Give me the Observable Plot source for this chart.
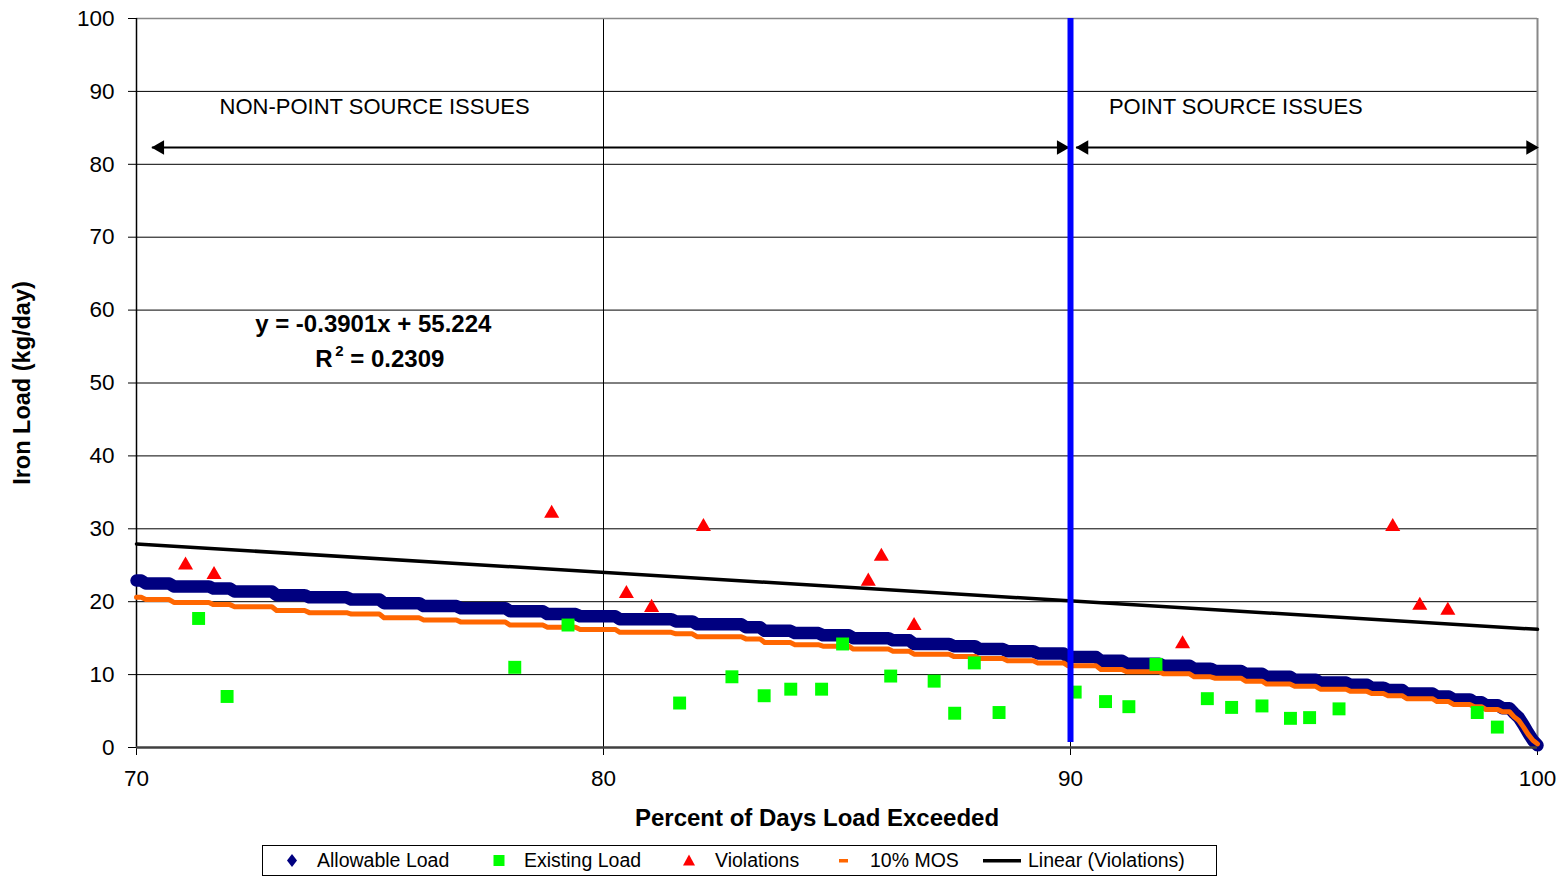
<!DOCTYPE html>
<html><head><meta charset="utf-8">
<script src="https://cdn.jsdelivr.net/npm/d3@7"></script>
<script src="https://cdn.jsdelivr.net/npm/@observablehq/plot@0.6"></script>
<style>
body{margin:0;background:#fff;font-family:"Liberation Sans",Arial,sans-serif;}
#wrap{position:relative;width:1564px;height:876px;overflow:hidden;}
#chart{position:absolute;left:0;top:0;}
#legend{position:absolute;left:262px;top:845px;width:955px;height:31px;border:1px solid #000;box-sizing:border-box;font-size:19.5px;color:#000;}
.item{position:absolute;top:0;height:29px;line-height:29px;white-space:nowrap;}
.sym{position:absolute;top:0;}
</style></head><body><div id="wrap"><div id="chart"></div><div id="legend"></div></div>
<script>
// ---- data ----
const xTicks = [70, 80, 90, 100];
const yTicks = [0, 10, 20, 30, 40, 50, 60, 70, 80, 90, 100];
const gridX = [80, 90];
const gridY = [10, 20, 30, 40, 50, 60, 70, 80, 90];

// Allowable load / 10% MOS: stepped levels (start %, end %, value)
const stepStart = [70.00,70.20,70.80,71.65,72.10,73.00,73.70,74.60,75.30,76.15,76.95,78.00,78.80,79.50,80.35,81.55,82.00,83.05,83.45,84.10,84.70,85.35,86.20,86.65,87.50,88.05,88.65,89.30,89.95,90.65,91.20,92.00,92.65,93.10,93.75,94.20,94.80,95.35,96.00,96.45,96.80,97.20,97.85,98.20,98.65,98.90,99.25];
const stepEnd   = [70.10,70.70,71.55,72.00,72.90,73.60,74.50,75.20,76.05,76.85,77.90,78.70,79.40,80.25,81.45,81.90,82.95,83.35,84.00,84.60,85.25,86.10,86.55,87.40,87.95,88.55,89.20,89.85,90.55,91.10,91.90,92.55,93.00,93.65,94.10,94.70,95.25,95.90,96.35,96.70,97.10,97.75,98.10,98.55,98.80,99.15,99.40];
const allowableLevel = [22.9,22.5,22.1,21.8,21.4,20.9,20.6,20.3,19.8,19.4,19.1,18.7,18.3,18.0,17.6,17.3,16.9,16.5,16.0,15.7,15.4,15.0,14.7,14.2,13.9,13.5,13.2,12.9,12.4,11.9,11.5,11.2,10.8,10.5,10.1,9.7,9.3,8.9,8.6,8.2,7.9,7.4,7.0,6.6,6.2,5.8,5.4];
const mosLevel       = [20.6,20.3,19.9,19.6,19.3,18.8,18.5,18.3,17.8,17.5,17.2,16.8,16.5,16.2,15.8,15.6,15.2,14.9,14.4,14.1,13.9,13.5,13.2,12.8,12.5,12.2,11.9,11.6,11.2,10.7,10.4,10.1,9.7,9.5,9.1,8.7,8.4,8.0,7.7,7.4,7.1,6.7,6.3,5.9,5.6,5.2,4.9];
const tailX = [99.50, 99.60, 99.70, 99.80, 99.90, 100.00];
const tailAllowable = [4.7, 4.1, 3.1, 2.0, 1.0, 0.3];
const tailMos = [4.2, 3.7, 2.8, 1.8, 1.0, 0.5];

const existingX = [71.33,71.94,78.10,79.24,81.63,82.75,83.44,84.01,84.67,85.12,86.15,87.08,87.52,87.94,88.47,90.10,90.75,91.25,91.83,92.93,93.45,94.10,94.71,95.12,95.75,98.71,99.14];
const existingY = [17.7,7.0,11.0,16.8,6.1,9.7,7.1,8.0,8.0,14.2,9.8,9.1,4.7,11.6,4.8,7.6,6.3,5.6,11.4,6.7,5.5,5.7,4.0,4.1,5.3,4.8,2.8];

const violationX = [71.05,71.66,78.89,80.49,81.03,82.14,85.67,85.95,86.65,92.40,96.90,97.48,98.08];
const violationY = [25.0,23.7,32.1,21.1,19.2,30.3,22.8,26.2,16.7,14.2,30.3,19.5,18.8];

const trendX = [70, 100];
const trendY = [27.92, 16.21];

const boundaryX = [90];
const arrowFrom = [70.34, 90.13];
const arrowTo = [89.96, 100.0];
const arrowY = 82.3;
const headX = [70.50, 89.80, 90.29, 99.85];
const headRotate = [-90, 90, -90, 90];
const regionLabels = ["NON-POINT SOURCE ISSUES", "POINT SOURCE ISSUES"];
const regionLabelX = [75.10, 93.54];
const regionLabelY = 87.8;
const eqLine = "y = -0.3901x + 55.224";
const eqX = 75.07, eqY = 58.0;
const r2Base = "R", r2Sup = "2", r2Rest = "= 0.2309";
const r2X = 75.22, r2Y = 53.2;

// ---- tables built from the arrays ----
const allowTable = stepStart.flatMap((s, i) => [{x: s, y: allowableLevel[i]}, {x: stepEnd[i], y: allowableLevel[i]}])
  .concat(tailX.map((x, i) => ({x, y: tailAllowable[i]})));
const mosTable = stepStart.flatMap((s, i) => [{x: s, y: mosLevel[i]}, {x: stepEnd[i], y: mosLevel[i]}])
  .concat(tailX.map((x, i) => ({x, y: tailMos[i]})));
const existing = existingX.map((x, i) => ({x, y: existingY[i]}));
const violations = violationX.map((x, i) => ({x, y: violationY[i]}));
const trend = trendX.map((x, i) => ({x, y: trendY[i]}));
const arrows = arrowFrom.map((a, i) => ({x1: a, x2: arrowTo[i], y: arrowY}));
const heads = headX.map((x, i) => ({x, y: arrowY, r: headRotate[i]}));
const regions = regionLabels.map((t, i) => ({t, x: regionLabelX[i], y: regionLabelY}));

const font = '"Liberation Sans", Arial, sans-serif';
const chart = Plot.plot({
  width: 1564,
  height: 840,
  marginLeft: 136,
  marginRight: 27,
  marginTop: 18,
  marginBottom: 93,
  style: {fontFamily: font, fontSize: "22.5px", color: "#000", background: "#fff"},
  x: {domain: [70, 100]},
  y: {domain: [0, 100]},
  marks: [
    Plot.ruleY(gridY, {stroke: "#000", strokeWidth: 1}),
    Plot.ruleX(gridX, {stroke: "#000", strokeWidth: 1}),
    Plot.ruleY([100], {stroke: "#888", strokeWidth: 1.5}),
    Plot.ruleX([100], {stroke: "#888", strokeWidth: 2}),
    Plot.ruleX([70], {stroke: "#000", strokeWidth: 1.5}),
    Plot.axisY({ticks: yTicks, tickSize: 8, tickPadding: 14, label: null, fontSize: 22.5}),
    Plot.axisX({ticks: xTicks, tickSize: 8, tickPadding: 15, label: null, fontSize: 22.5}),
    Plot.line(allowTable, {x: "x", y: "y", stroke: "#000080", strokeWidth: 12.5, strokeLinecap: "round", strokeLinejoin: "round"}),
    Plot.line(mosTable, {x: "x", y: "y", stroke: "#FF6600", strokeWidth: 5, strokeLinejoin: "round"}),
    Plot.dot(existing, {x: "x", y: "y", symbol: "square", r: 7.3, fill: "#00FF00", stroke: "none"}),
    Plot.dot(violations, {x: "x", y: "y", symbol: "triangle", r: 5.6, fill: "#FF0000", stroke: "none"}),
    Plot.line(trend, {x: "x", y: "y", stroke: "#000", strokeWidth: 3.5}),
    Plot.ruleY([0], {stroke: "#404040", strokeWidth: 2.5}),
    Plot.ruleY(arrows, {x1: "x1", x2: "x2", y: "y", stroke: "#000", strokeWidth: 2}),
    Plot.dot(heads, {x: "x", y: "y", rotate: "r", symbol: "triangle", r: 5.4, fill: "#000", stroke: "none"}),
    Plot.ruleX(boundaryX, {y1: 0.7, y2: 100, stroke: "#0000FF", strokeWidth: 6}),
    Plot.text(regions, {x: "x", y: "y", text: "t", fontSize: 22, fill: "#000"}),
    Plot.text([eqLine], {x: () => eqX, y: () => eqY, fontSize: 24, fontWeight: "bold", fill: "#000"}),
    Plot.text([r2Base], {x: () => r2X, y: () => r2Y, dx: -65, textAnchor: "start", fontSize: 24, fontWeight: "bold", fill: "#000"}),
    Plot.text([r2Sup], {x: () => r2X, y: () => r2Y, dx: -45, dy: -8, textAnchor: "start", fontSize: 15, fontWeight: "bold", fill: "#000"}),
    Plot.text([r2Rest], {x: () => r2X, y: () => r2Y, dx: -30, textAnchor: "start", fontSize: 24, fontWeight: "bold", fill: "#000"}),
    Plot.text(["Iron Load (kg/day)"], {frameAnchor: "left", textAnchor: "middle", dx: -114, rotate: -90, fontSize: 23.5, fontWeight: "bold", fill: "#000"}),
    Plot.text(["Percent of Days Load Exceeded"], {frameAnchor: "bottom", dx: -20, dy: 78, fontSize: 24, fontWeight: "bold", fill: "#000"})
  ]
});
document.getElementById("chart").appendChild(chart);

// ---- legend ----
const legendItems = [
  {label: "Allowable Load", sym: `<svg width="16" height="29"><path d="M8 8 L13 14.5 L8 21 L3 14.5 Z" fill="#000080"/></svg>`, symX: 21, textX: 54},
  {label: "Existing Load", sym: `<svg width="16" height="29"><rect x="2.5" y="9" width="11" height="11" fill="#00FF00"/></svg>`, symX: 228, textX: 261},
  {label: "Violations", sym: `<svg width="16" height="29"><path d="M8 8.5 L14 19.5 L2 19.5 Z" fill="#FF0000"/></svg>`, symX: 418, textX: 452},
  {label: "10% MOS", sym: `<svg width="16" height="29"><rect x="3" y="13" width="9" height="3.5" fill="#FF6600"/></svg>`, symX: 573, textX: 607},
  {label: "Linear (Violations)", sym: `<svg width="40" height="29"><rect x="1" y="13" width="38" height="3.5" fill="#000"/></svg>`, symX: 719, textX: 765}
];
const legend = document.getElementById("legend");
legendItems.forEach(d => {
  const s = document.createElement("div"); s.className = "sym"; s.style.left = d.symX + "px"; s.innerHTML = d.sym; legend.appendChild(s);
  const t = document.createElement("div"); t.className = "item"; t.style.left = d.textX + "px"; t.textContent = d.label; legend.appendChild(t);
});
</script></body></html>
